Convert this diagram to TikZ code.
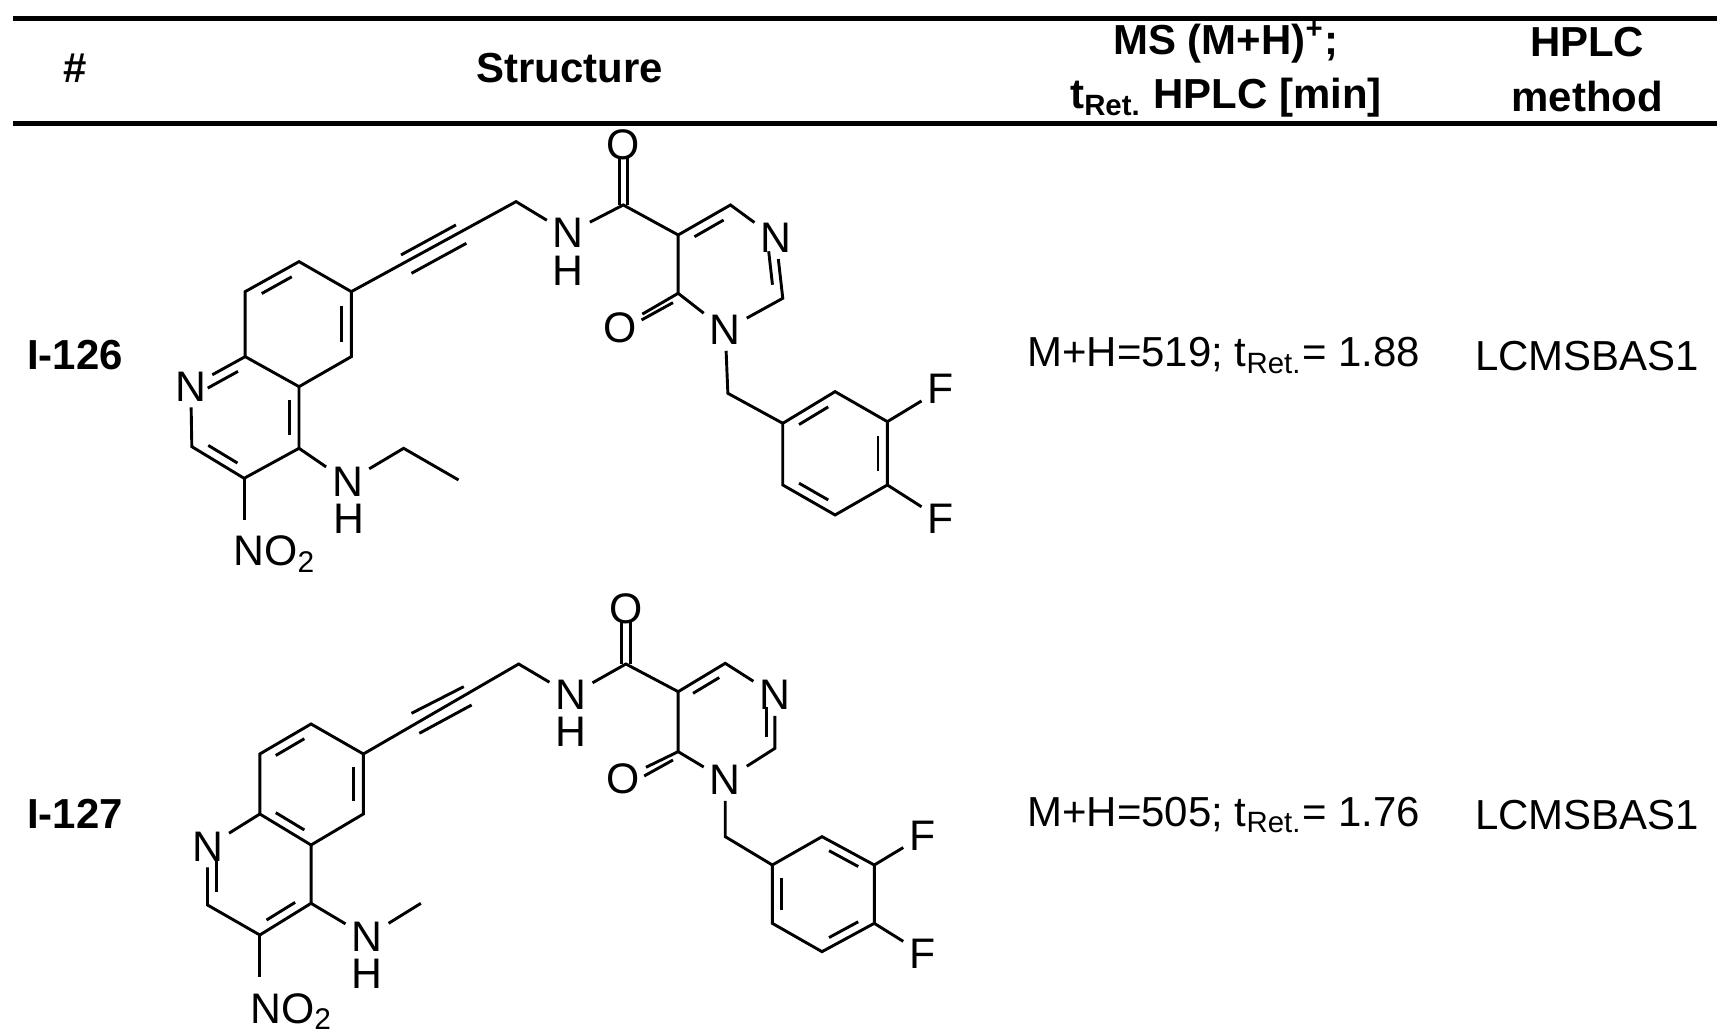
\documentclass[tikz,border=0pt]{standalone}
\usepackage{fontspec}
\setmainfont{Liberation Sans}
\usetikzlibrary{calc}
\newcommand{\dbl}[3]{\draw ($($(#1)!0.16!(#2)$)!0.18!(#3)$) -- ($($(#1)!0.84!(#2)$)!0.18!(#3)$);}
\tikzset{atom/.style={font=\fontsize{11}{12}\selectfont,inner sep=1.2pt},
 txt/.style={font=\fontsize{10.8}{14}\selectfont,align=center},
 hdr/.style={font=\bfseries\fontsize{10.8}{14}\selectfont,align=center},
 bond/.style={line width=0.75pt}}
\begin{document}
\begin{tikzpicture}[x=0.01cm,y=-0.01cm]
\useasboundingbox (0,0) rectangle (1560,935);
\fill[white] (0,0) rectangle (1560,935);
\draw[line width=1.3pt] (12,17) -- (1555,17);
\draw[line width=1.3pt] (12,112) -- (1555,112);
\node[hdr] (h1) at (68,62) {\#};
\node[hdr] (h2) at (516,62) {Structure};
\node[hdr] (h3) at (1110,63) {MS (M+H)\textsuperscript{+};\\t\textsubscript{Ret.} HPLC [min]};
\node[hdr] (h4) at (1437,63) {HPLC\\method};
\node[hdr] (r1) at (68,321) {I-126};
\node[txt] (m1) at (1108,322) {M+H=519; t\textsubscript{Ret.}= 1.88};
\node[txt] (l1) at (1437,322) {LCMSBAS1};
\node[hdr] (r2) at (68,737) {I-127};
\node[txt] (m2) at (1108,738) {M+H=505; t\textsubscript{Ret.}= 1.76};
\node[txt] (l2) at (1437,738) {LCMSBAS1};
% molecule 1
\begin{scope}[shift={(135.8,108.6)},xscale=0.4735,yscale=0.3018,bond]
\coordinate (a1) at (285,425); \coordinate (a2) at (385,515); \coordinate (a3) at (385,710);
\coordinate (a4) at (285,800); \coordinate (a5) at (182,710); \coordinate (a6) at (182,515);
\coordinate (bc) at (283,612); \coordinate (pc) at (182,890);
\node[atom] (n1) at (78,800) {N};
\coordinate (c2) at (80,980); \coordinate (c3) at (180,1075); \coordinate (c4) at (285,985);
\node[atom,anchor=west] (no2) at (148,1302) {NO\textsubscript{2}};
\coordinate (no2b) at (180,1200);
\node[atom] (nh) at (378,1085) {N}; \node[atom] (hh) at (380,1195) {H};
\coordinate (e1) at (485,985); \coordinate (e2) at (590,1080);
\coordinate (ch2) at (700,245);
\node[atom] (nam) at (800,340) {N}; \node[atom] (ham) at (800,452) {H};
\coordinate (cc) at (905,255); \node[atom] (o1) at (905,75) {O};
\coordinate (p5) at (1010,345); \coordinate (p6) at (1110,255);
\node[atom] (pn1) at (1197,355) {N}; \coordinate (p2) at (1210,535);
\node[atom] (pn3) at (1100,630) {N}; \coordinate (p4) at (1010,520);
\coordinate (yc) at (1110,440);
\node[atom] (o2) at (898,622) {O};
\coordinate (bch) at (1105,820);
\coordinate (b1) at (1210,910); \coordinate (b2) at (1310,815); \coordinate (b3) at (1410,905);
\coordinate (b4) at (1410,1095); \coordinate (b5) at (1310,1185); \coordinate (b6) at (1210,1095);
\coordinate (zc) at (1310,1000);
\node[atom] (f1) at (1512,808) {F}; \node[atom] (f2) at (1512,1197) {F};
\draw (a1)--(a2)--(a3)--(a4)--(a5)--(a6)--cycle;
\draw (a5)--(n1)--(c2)--(c3)--(c4)--(a4);
\dbl{a1}{a6}{bc} \dbl{a2}{a3}{bc} \dbl{a4}{c4}{pc} \dbl{c2}{c3}{pc} \dbl{n1}{a5}{pc}
\draw (c3)--(no2b);
\draw (c4)--(nh)--(e1)--(e2);
\draw (a2)--(ch2)--(nam)--(cc)--(p5);
\draw (480,405)--(585,315); \draw (500,460)--(605,370);
\draw (897,255)--(897,112); \draw (913,255)--(913,112);
\draw (p5)--(p6)--(pn1)--(p2)--(pn3)--(p4)--(p5);
\dbl{p5}{p6}{yc} \dbl{pn1}{p2}{yc}
\draw (p4)--(o2); \draw (1000,548)--(940,600);
\draw (pn3)--(bch)--(b1);
\draw (b1)--(b2)--(b3)--(b4)--(b5)--(b6)--cycle;
\dbl{b1}{b2}{zc} \dbl{b3}{b4}{zc} \dbl{b5}{b6}{zc}
\draw (b3)--(f1); \draw (b4)--(f2);
\end{scope}
% molecule 2
\begin{scope}[shift={(135.8,525.1)},xscale=0.4735,yscale=0.3018,bond]
\coordinate (a1) at (308,432); \coordinate (a2) at (408,522); \coordinate (a3) at (408,702);
\coordinate (a4) at (308,795); \coordinate (a5) at (210,702); \coordinate (a6) at (210,522);
\coordinate (bc) at (308,612); \coordinate (pc) at (210,885);
\node[atom] (n1) at (110,800) {N};
\coordinate (c2) at (110,975); \coordinate (c3) at (210,1065); \coordinate (c4) at (308,970);
\node[atom,anchor=west] (no2) at (180,1295) {NO\textsubscript{2}};
\coordinate (no2b) at (210,1190);
\node[atom] (nh) at (415,1070) {N}; \node[atom] (hh) at (415,1180) {H};
\coordinate (e1) at (518,970);
\coordinate (ch2) at (705,252);
\node[atom] (nam) at (805,345) {N}; \node[atom] (ham) at (805,455) {H};
\coordinate (cc) at (910,252); \node[atom] (o1) at (910,85) {O};
\coordinate (p5) at (1010,335); \coordinate (p6) at (1100,250);
\node[atom] (pn1) at (1195,345) {N}; \coordinate (p2) at (1195,505);
\node[atom] (pn3) at (1100,600) {N}; \coordinate (p4) at (1010,515);
\coordinate (yc) at (1102,425);
\node[atom] (o2) at (905,595) {O};
\coordinate (bch) at (1100,770);
\coordinate (b1) at (1190,855); \coordinate (b2) at (1285,770); \coordinate (b3) at (1385,855);
\coordinate (b4) at (1385,1030); \coordinate (b5) at (1285,1115); \coordinate (b6) at (1190,1030);
\coordinate (zc) at (1287,942);
\node[atom] (f1) at (1477,768) {F}; \node[atom] (f2) at (1477,1120) {F};
\draw (a1)--(a2)--(a3)--(a4)--(a5)--(a6)--cycle;
\draw (a5)--(n1)--(c2)--(c3)--(c4)--(a4);
\dbl{a1}{a6}{bc} \dbl{a2}{a3}{bc} \dbl{a4}{a5}{bc} \dbl{c3}{c4}{pc} \dbl{n1}{c2}{pc}
\draw (c3)--(no2b);
\draw (c4)--(nh)--(e1);
\draw (a2)--(ch2)--(nam)--(cc)--(p5);
\draw (500,400)--(600,320); \draw (515,460)--(615,375);
\draw (902,252)--(902,120); \draw (918,252)--(918,120);
\draw (p5)--(p6)--(pn1)--(p2)--(pn3)--(p4)--(p5);
\dbl{p5}{p6}{yc} \dbl{pn1}{p2}{yc}
\draw (p4)--(o2); \draw (1000,540)--(945,588);
\draw (pn3)--(bch)--(b1);
\draw (b1)--(b2)--(b3)--(b4)--(b5)--(b6)--cycle;
\dbl{b2}{b3}{zc} \dbl{b4}{b5}{zc} \dbl{b6}{b1}{zc}
\draw (b3)--(f1); \draw (b4)--(f2);
\end{scope}
\end{tikzpicture}
\end{document}
